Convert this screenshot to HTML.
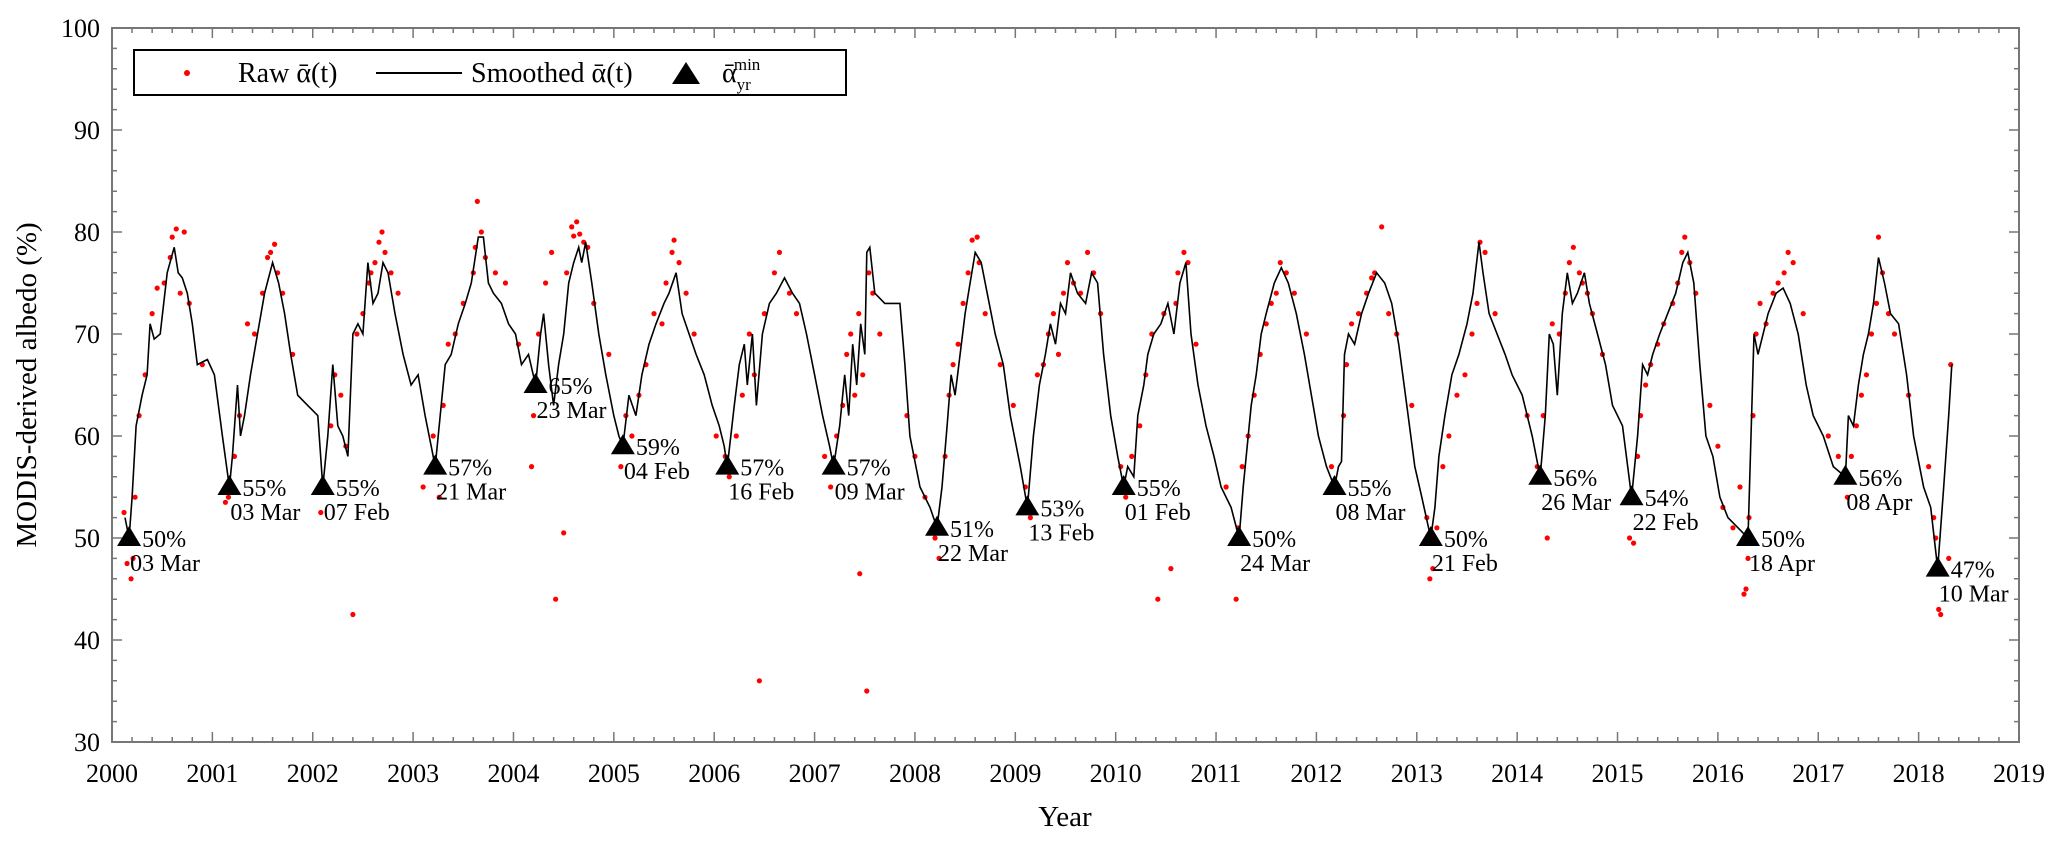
<!DOCTYPE html>
<html><head><meta charset="utf-8"><style>
html,body{margin:0;padding:0;background:#fff;}
svg{display:block;font-family:"Liberation Serif",serif;}
</style></head><body>
<svg id="chart" width="2067" height="841" viewBox="0 0 2067 841" xmlns="http://www.w3.org/2000/svg">
<g id="axes"></g>
<g id="raw"></g>
<g id="smooth"></g>
<g id="mins"></g>
<text x="0" y="0" transform="translate(36,385) rotate(-90)" text-anchor="middle" font-size="29">MODIS-derived albedo (%)</text>
<text x="1065" y="826" text-anchor="middle" font-size="29">Year</text>
<g>
<rect x="134" y="50" width="712" height="45" fill="#fff" stroke="#000" stroke-width="2"/>
<circle cx="187" cy="73" r="3" fill="#f00"/>
<text x="238" y="82" font-size="28">Raw ᾱ(t)</text>
<line x1="376" y1="73" x2="462" y2="73" stroke="#000" stroke-width="2"/>
<text x="471" y="82" font-size="28">Smoothed ᾱ(t)</text>
<polygon points="686,62 700,84 672,84" fill="#000"/>
<text x="722" y="82" font-size="28">ᾱ<tspan font-size="17" dy="8">yr</tspan><tspan font-size="17" dx="-17" dy="-20">min</tspan></text>
</g>
</svg>
<script>
const xTicks = [2000,2001,2002,2003,2004,2005,2006,2007,2008,2009,2010,2011,2012,2013,2014,2015,2016,2017,2018,2019];
const yTicks = [30,40,50,60,70,80,90,100];
const minYears = [2000.17,2001.17,2002.10,2003.22,2004.22,2005.09,2006.13,2007.19,2008.22,2009.12,2010.08,2011.23,2012.18,2013.14,2014.23,2015.14,2016.30,2017.27,2018.19];
const minValues = [50,55,55,57,65,59,57,57,51,53,55,50,55,50,56,54,50,56,47];
const minPctLabels = ["50%","55%","55%","57%","65%","59%","57%","57%","51%","53%","55%","50%","55%","50%","56%","54%","50%","56%","47%"];
const minDateLabels = ["03 Mar","03 Mar","07 Feb","21 Mar","23 Mar","04 Feb","16 Feb","09 Mar","22 Mar","13 Feb","01 Feb","24 Mar","08 Mar","21 Feb","26 Mar","22 Feb","18 Apr","08 Apr","10 Mar"];
const smoothT = [2000.13,2000.17,2000.2,2000.24,2000.3,2000.35,2000.38,2000.42,2000.48,2000.55,2000.62,2000.66,2000.7,2000.75,2000.8,2000.85,2000.95,2001.02,2001.1,2001.17,
2001.2,2001.25,2001.28,2001.32,2001.38,2001.45,2001.52,2001.6,2001.66,2001.72,2001.78,2001.85,2001.95,2002.05,2002.1,
2002.15,2002.2,2002.25,2002.3,2002.35,2002.4,2002.45,2002.5,2002.55,2002.6,2002.65,2002.7,2002.75,2002.82,2002.9,2002.98,2003.05,2003.12,2003.18,2003.22,
2003.28,2003.32,2003.38,2003.45,2003.52,2003.58,2003.65,2003.7,2003.75,2003.8,2003.88,2003.95,2004.02,2004.08,2004.15,2004.22,
2004.27,2004.3,2004.35,2004.4,2004.45,2004.5,2004.55,2004.6,2004.65,2004.68,2004.72,2004.78,2004.85,2004.92,2005.0,2005.05,2005.09,
2005.15,2005.22,2005.28,2005.35,2005.42,2005.5,2005.55,2005.62,2005.68,2005.75,2005.82,2005.9,2005.98,2006.05,2006.1,2006.13,
2006.2,2006.25,2006.3,2006.33,2006.38,2006.42,2006.48,2006.55,2006.62,2006.7,2006.78,2006.85,2006.92,2007.0,2007.08,2007.15,2007.19,
2007.25,2007.3,2007.34,2007.38,2007.42,2007.46,2007.5,2007.52,2007.55,2007.6,2007.7,2007.85,2007.9,2007.95,2008.05,2008.15,2008.22,
2008.27,2008.32,2008.36,2008.4,2008.45,2008.5,2008.55,2008.6,2008.66,2008.72,2008.8,2008.88,2008.95,2009.05,2009.12,
2009.18,2009.24,2009.3,2009.35,2009.4,2009.45,2009.5,2009.55,2009.62,2009.7,2009.76,2009.82,2009.88,2009.95,2010.02,2010.08,
2010.12,2010.18,2010.22,2010.28,2010.32,2010.38,2010.45,2010.52,2010.58,2010.64,2010.7,2010.75,2010.82,2010.9,2010.98,2011.05,2011.15,2011.23,
2011.27,2011.3,2011.35,2011.4,2011.45,2011.5,2011.58,2011.65,2011.72,2011.8,2011.88,2011.95,2012.02,2012.1,2012.18,
2012.22,2012.25,2012.28,2012.32,2012.38,2012.45,2012.52,2012.6,2012.68,2012.75,2012.82,2012.9,2012.98,2013.05,2013.14,
2013.18,2013.22,2013.28,2013.35,2013.42,2013.5,2013.56,2013.62,2013.66,2013.72,2013.8,2013.88,2013.95,2014.05,2014.15,2014.23,
2014.28,2014.32,2014.36,2014.4,2014.45,2014.5,2014.55,2014.6,2014.67,2014.72,2014.8,2014.88,2014.95,2015.05,2015.14,
2015.2,2015.25,2015.3,2015.35,2015.42,2015.5,2015.58,2015.65,2015.7,2015.76,2015.82,2015.88,2015.95,2016.02,2016.1,2016.2,2016.3,
2016.33,2016.36,2016.4,2016.45,2016.5,2016.58,2016.65,2016.72,2016.8,2016.88,2016.95,2017.05,2017.15,2017.27,
2017.3,2017.35,2017.4,2017.45,2017.5,2017.55,2017.6,2017.66,2017.72,2017.8,2017.88,2017.95,2018.05,2018.12,2018.19,
2018.25,2018.3,2018.33];
const smoothV = [52,50,54,61,64,66,71,69.5,70,76,78.5,76,75.5,74,71,67,67.5,66,60,55,
58,65,60,62,66,70,74,77,75,72,68,64,63,62,55,
60,67,61,60,58,70,71,70,77,73,74,77,76,72,68,65,66,62,59,57,
63,67,68,71,73,75,79.5,79.5,75,74,73,71,70,67,68,65,
70,72,67,63,67,70,75,77,78.5,77,79,75,70,66,62,60,59,
64,62,66,69,71,73,74,76,72,70,68,66,63,61,59,57,
63,67,69,65,70,63,70,73,74,75.5,74,73,70,66,62,59,57,
61,66,62,69,65,71,68,78,78.5,74,73,73,67,60,55,53,51,
55,61,66,64,68,72,75,78,77,74,70,67,62,57,53,
60,65,68,71,69,73,72,76,74,73,76,75,68,62,58,55,
57,56,62,65,68,70,71,73,70,75,77,70,65,61,58,55,53,50,
55,58,63,66,70,72,75,76.5,75,72,68,64,60,57,55,
57,57.5,68,70,69,72,74,76,75,73,69,63,57,54,50,
53,58,62,66,68,71,74,79,76,72,70,68,66,64,60,56,
62,70,69,64,72,76,73,74,76,73,70,67,63,61,54,
60,67,66,68,70,72,74,77,78,75,67,60,58,54,52,51,50,
60,70,68,70,72,74,74.5,73,70,65,62,60,57,56,
62,61,65,68,70,73,77.5,75,72,71,66,60,55,53,47,
55,62,67];
const rawT = [2000.12,2000.15,2000.19,2000.21,2000.23,2000.27,2000.33,2000.4,2000.45,2000.52,2000.58,2000.6,2000.64,2000.68,2000.72,2000.77,2000.9,
2001.13,2001.16,2001.22,2001.27,2001.35,2001.42,2001.5,2001.55,2001.58,2001.62,2001.65,2001.7,2001.8,2002.08,
2002.18,2002.22,2002.28,2002.33,2002.4,2002.44,2002.5,2002.56,2002.58,2002.62,2002.66,2002.69,2002.72,2002.78,2002.85,2003.1,2003.2,
2003.26,2003.3,2003.35,2003.42,2003.5,2003.6,2003.62,2003.64,2003.68,2003.72,2003.82,2003.92,2004.05,2004.18,2004.2,
2004.25,2004.32,2004.38,2004.42,2004.5,2004.53,2004.58,2004.6,2004.63,2004.66,2004.7,2004.74,2004.8,2004.95,2005.07,
2005.12,2005.18,2005.25,2005.32,2005.4,2005.48,2005.52,2005.58,2005.6,2005.65,2005.72,2005.8,2006.02,2006.11,
2006.15,2006.22,2006.28,2006.35,2006.4,2006.45,2006.5,2006.6,2006.65,2006.75,2006.82,2007.1,2007.16,
2007.22,2007.28,2007.32,2007.36,2007.4,2007.44,2007.45,2007.48,2007.52,2007.54,2007.58,2007.65,2007.92,2008.0,2008.1,2008.2,
2008.24,2008.3,2008.34,2008.38,2008.43,2008.48,2008.53,2008.57,2008.62,2008.64,2008.7,2008.85,2008.98,2009.1,
2009.15,2009.22,2009.28,2009.33,2009.38,2009.43,2009.48,2009.52,2009.58,2009.65,2009.72,2009.78,2009.85,2010.05,
2010.1,2010.16,2010.24,2010.3,2010.36,2010.42,2010.48,2010.55,2010.6,2010.62,2010.68,2010.72,2010.8,2011.1,2011.2,2011.22,
2011.26,2011.32,2011.38,2011.44,2011.5,2011.55,2011.6,2011.64,2011.7,2011.78,2011.9,2012.15,
2012.2,2012.27,2012.3,2012.35,2012.42,2012.5,2012.55,2012.58,2012.65,2012.72,2012.8,2012.95,2013.1,2013.13,2013.16,
2013.2,2013.26,2013.32,2013.4,2013.48,2013.55,2013.6,2013.63,2013.68,2013.78,2014.1,2014.2,
2014.26,2014.3,2014.35,2014.42,2014.48,2014.52,2014.56,2014.62,2014.65,2014.7,2014.75,2014.85,2015.12,2015.16,2015.2,
2015.23,2015.28,2015.33,2015.4,2015.46,2015.55,2015.6,2015.64,2015.67,2015.72,2015.78,2015.92,2016.0,2016.05,2016.15,2016.22,2016.26,2016.28,2016.3,2016.31,
2016.35,2016.38,2016.42,2016.48,2016.55,2016.6,2016.66,2016.7,2016.75,2016.85,2017.1,2017.2,
2017.29,2017.33,2017.38,2017.43,2017.48,2017.53,2017.58,2017.6,2017.64,2017.7,2017.76,2017.9,2018.1,2018.15,2018.17,2018.2,2018.22,2018.3,2018.32];
const rawV = [52.5,47.5,46,48,54,62,66,72,74.5,75,77.5,79.5,80.3,74,80,73,67,
53.5,54,58,62,71,70,74,77.5,78,78.8,76,74,68,52.5,
61,66,64,59,42.5,70,72,75,76,77,79,80,78,76,74,55,60,
54,63,69,70,73,76,78.5,83,80,77.5,76,75,69,57,62,
70,75,78,44,50.5,76,80.5,79.6,81,79.8,79,78.5,73,68,57,
62,60,64,67,72,71,75,78,79.2,77,74,70,60,58,
56,60,64,70,66,36,72,76,78,74,72,58,55,
60,63,68,70,64,72,46.5,66,35,76,74,70,62,58,54,50,
48,58,64,67,69,73,76,79.2,79.5,77,72,67,63,55,
52,66,67,70,72,68,74,77,75,74,78,76,72,57,
54,58,61,66,70,44,72,47,73,76,78,77,69,55,44,51,
57,60,64,68,71,73,74,77,76,74,70,57,
55,62,67,71,72,74,75.5,76,80.5,72,70,63,52,46,47,
51,57,60,64,66,70,73,79,78,72,62,57,
62,50,71,70,74,77,78.5,76,75,74,72,68,50,49.5,58,
62,65,67,69,71,73,75,78,79.5,77,74,63,59,53,51,55,44.5,45,48,52,
62,70,73,71,74,75,76,78,77,72,60,58,
54,58,61,64,66,70,73,79.5,76,72,70,64,57,52,50,43,42.5,48,67];

const X0 = 112, X1 = 2019, Y0 = 742, Y1 = 28;
function sx(t){ return X0 + (t - 2000) / 19 * (X1 - X0); }
function sy(v){ return Y0 - (v - 30) / 70 * (Y0 - Y1); }
const NS = 'http://www.w3.org/2000/svg';
function mk(tag, parent){ const e = document.createElementNS(NS, tag); parent.appendChild(e); return e; }

const axes = document.getElementById('axes');
const frame = mk('rect', axes);


frame.setAttribute('x', X0); frame.setAttribute('y', Y1);
frame.setAttribute('width', X1 - X0); frame.setAttribute('height', Y0 - Y1);
frame.setAttribute('fill', 'none'); frame.setAttribute('stroke', '#777'); frame.setAttribute('stroke-width', '2');
let tickPath = '';
for (let i = 0; i < xTicks.length; i++) {
  const x = sx(xTicks[i]);
  tickPath += `M${x},${Y0}v-10M${x},${Y1}v10`;
  if (i < xTicks.length - 1) for (let k = 1; k < 5; k++) { const xm = sx(xTicks[i] + k / 5); tickPath += `M${xm},${Y0}v-5M${xm},${Y1}v5`; }
  const lab = mk('text', axes);
  
  
  lab.setAttribute('x', x); lab.setAttribute('y', Y0 + 40);
  lab.setAttribute('text-anchor', 'middle'); lab.setAttribute('font-size', '26');
  lab.textContent = xTicks[i];
}
for (let i = 0; i < yTicks.length; i++) {
  const y = sy(yTicks[i]);
  tickPath += `M${X0},${y}h10M${X1},${y}h-10`;
  if (i < yTicks.length - 1) for (let k = 1; k < 5; k++) { const ym = sy(yTicks[i] + k * 2); tickPath += `M${X0},${ym}h5M${X1},${ym}h-5`; }
  const lab = mk('text', axes);
  
  
  lab.setAttribute('x', X0 - 12); lab.setAttribute('y', y + 9);
  lab.setAttribute('text-anchor', 'end'); lab.setAttribute('font-size', '26');
  lab.textContent = yTicks[i];
}
const tp = mk('path', axes);


tp.setAttribute('d', tickPath); tp.setAttribute('stroke', '#777'); tp.setAttribute('stroke-width', '1.5');

const rawG = document.getElementById('raw');
for (let i = 0; i < rawT.length; i++) {
  const c = mk('circle', rawG);
  
  
  c.setAttribute('cx', sx(rawT[i])); c.setAttribute('cy', sy(rawV[i]));
  c.setAttribute('r', '2.6'); c.setAttribute('fill', '#f00');
}
const sm = document.getElementById('smooth');
const line = mk('path', sm);


line.setAttribute('d', smoothT.map((t, i) => (i ? 'L' : 'M') + sx(t).toFixed(1) + ',' + sy(smoothV[i]).toFixed(1)).join(''));
line.setAttribute('fill', 'none'); line.setAttribute('stroke', '#000'); line.setAttribute('stroke-width', '1.6');

const mg = document.getElementById('mins');
for (let i = 0; i < minYears.length; i++) {
  const x = sx(minYears[i]), y = sy(minValues[i]);
  const tri = mk('polygon', mg);
  
  
  tri.setAttribute('points', `${x},${y - 12} ${x + 12},${y + 8} ${x - 12},${y + 8}`);
  tri.setAttribute('fill', '#000');
  const p = mk('text', mg);
  
  
  p.setAttribute('x', x + 13); p.setAttribute('y', y + 9); p.setAttribute('font-size', '24');
  p.textContent = minPctLabels[i];
  const d = mk('text', mg);
  
  
  d.setAttribute('x', x + 1); d.setAttribute('y', y + 33); d.setAttribute('font-size', '24');
  d.textContent = minDateLabels[i];
}
</script>
</body></html>
